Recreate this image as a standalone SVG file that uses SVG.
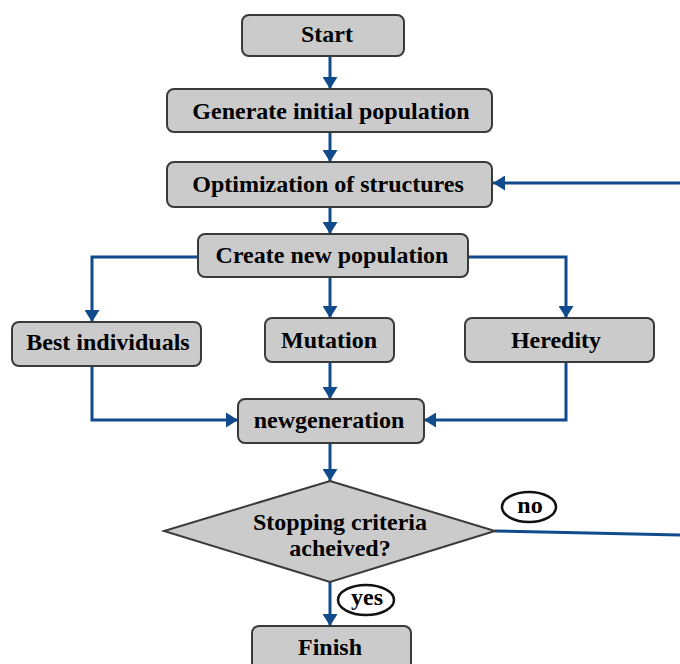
<svg xmlns="http://www.w3.org/2000/svg" width="680" height="664" viewBox="0 0 680 664">
  <style>
    .box { fill: #cbcbcb; stroke: #3a3a3a; stroke-width: 2; }
    .lbl { font-family: "Liberation Serif", "Times New Roman", serif; font-weight: bold; font-size: 24px; fill: #000; text-anchor: middle; }
    .tag { fill: #ffffff; stroke: #111; stroke-width: 2.5; }
    .edge { fill: none; stroke: #114b8b; stroke-width: 3; }
  </style>
  <defs>
    <marker id="head" markerUnits="userSpaceOnUse" markerWidth="14" markerHeight="15" refX="12" refY="7.5" orient="auto">
      <path d="M0,0 L12,7.5 L0,15 Z" fill="#114b8b"/>
    </marker>
  </defs>
  <rect width="680" height="664" fill="#ffffff"/>

  <g id="connectors">
    <path class="edge" d="M330,56 V89" marker-end="url(#head)"/>
    <path class="edge" d="M330,132 V162" marker-end="url(#head)"/>
    <path class="edge" d="M680,183 H493" marker-end="url(#head)"/>
    <path class="edge" d="M330,207 V234" marker-end="url(#head)"/>
    <path class="edge" d="M198,257 H92 V322" marker-end="url(#head)"/>
    <path class="edge" d="M330,277 V318" marker-end="url(#head)"/>
    <path class="edge" d="M468,257 H566 V318" marker-end="url(#head)"/>
    <path class="edge" d="M92,366 V420 H238" marker-end="url(#head)"/>
    <path class="edge" d="M330,362 V399" marker-end="url(#head)"/>
    <path class="edge" d="M566,362 V420 H424" marker-end="url(#head)"/>
    <path class="edge" d="M330,443 V481" marker-end="url(#head)"/>
    <path class="edge" d="M495,531 L680,535"/>
    <path class="edge" d="M330,582 V626" marker-end="url(#head)"/>
  </g>

  <g id="start">
    <rect class="box" x="242" y="15" width="162" height="41" rx="7"/>
    <text class="lbl" x="327" y="42">Start</text>
  </g>
  <g id="generate">
    <rect class="box" x="167" y="89" width="325" height="43" rx="7"/>
    <text class="lbl" x="331" y="119">Generate initial population</text>
  </g>
  <g id="optimization">
    <rect class="box" x="167" y="162" width="325" height="45" rx="7"/>
    <text class="lbl" x="328" y="192">Optimization of structures</text>
  </g>
  <g id="create">
    <rect class="box" x="198" y="234" width="270" height="43" rx="7"/>
    <text class="lbl" x="332" y="263">Create new population</text>
  </g>
  <g id="best">
    <rect class="box" x="12" y="322" width="189" height="44" rx="7"/>
    <text class="lbl" x="108" y="350">Best individuals</text>
  </g>
  <g id="mutation">
    <rect class="box" x="265" y="318" width="129" height="44" rx="7"/>
    <text class="lbl" x="329" y="348">Mutation</text>
  </g>
  <g id="heredity">
    <rect class="box" x="465" y="318" width="189" height="44" rx="7"/>
    <text class="lbl" x="556" y="348">Heredity</text>
  </g>
  <g id="newgeneration">
    <rect class="box" x="238" y="399" width="186" height="44" rx="7"/>
    <text class="lbl" x="329" y="428">newgeneration</text>
  </g>
  <g id="decision">
    <polygon class="box" points="330,481 495,531 330,582 164,531"/>
    <text class="lbl" x="340" y="530">Stopping criteria</text>
    <text class="lbl" x="340" y="556">acheived?</text>
  </g>
  <g id="no-tag">
    <ellipse class="tag" cx="529" cy="507" rx="27" ry="15"/>
    <text class="lbl" x="530" y="513">no</text>
  </g>
  <g id="yes-tag">
    <ellipse class="tag" cx="366" cy="600" rx="28" ry="15"/>
    <text class="lbl" x="367" y="605">yes</text>
  </g>
  <g id="finish">
    <rect class="box" x="252" y="626" width="159" height="50" rx="7"/>
    <text class="lbl" x="330" y="655">Finish</text>
  </g>
</svg>
